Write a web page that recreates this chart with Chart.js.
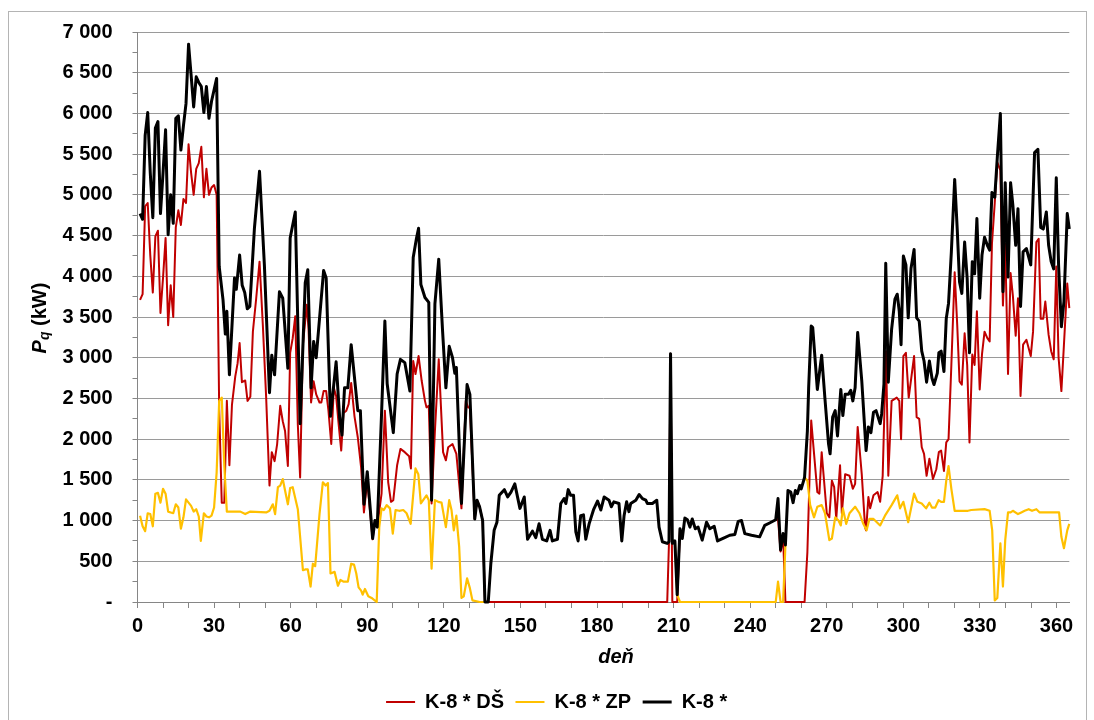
<!DOCTYPE html>
<html lang="sk">
<head>
    <meta charset="UTF-8">
    <title>K-8 Pq</title>
    <script src="https://cdn.jsdelivr.net/npm/chart.js@4.4.1/dist/chart.umd.min.js"></script>
    <style>
        body{
            margin: 0;
            background: white;
            overflow: hidden;
        }
    </style>
</head>
<body>
    <canvas id="myChart" width="1094" height="730"></canvas>
    <script>
        // K-8 * (total)
        var blackDays = [1,2,3,4,5,6,7,8,9,10,
            11,12,13,14,15,16,17,18,19,20,
            21,22,23,24,25,26,27,28,29,30,
            31,32,33.5,34.4,35,36,38,38.7,40,41,
            42,43,44,45.8,47.8,49.7,51.7,52.6,53.7,55.6,
            56.9,58.9,59.8,61.8,63.7,65.7,66.7,68,69,70,
            72.9,73.9,75.6,77.8,79.2,80.1,81.1,82.4,83.7,86.3,
            87.3,88.7,90,92.1,93,93.9,95.6,96.9,97.8,100.2,
            101.7,103,104.7,106.7,108,109.3,110.1,111,112.6,114.1,
            115.2,116.5,118,119.5,120.8,122.1,123.4,124.3,124.9,126.9,
            129.1,130.2,132.1,133,134,135.2,136.1,137.4,138.4,139.7,
            140.8,141.7,143.7,145,146.3,147.8,149.8,151.5,152.8,154.7,
            156,157.3,158.6,160.3,161.6,162.5,164.5,165.8,167.1,167.8,
            168.7,169.7,170.8,171.7,172.6,173.6,174.7,175.6,176.9,178.6,
            180.2,181.5,182.8,184.7,185.6,186.6,188.6,189.7,190.6,191.6,
            192.5,193.2,195.2,196.5,197.8,199.1,199.7,201.7,203.4,204.3,
            205.6,207.5,208.2,208.8,209.5,210.5,211.4,212.5,213.4,214.4,
            215.4,216.4,217.3,218.5,219.6,221.2,222.9,224.2,225.9,227.2,
            230,232,234,235.3,236.6,237.9,240.5,243.7,245.7,247.6,
            250,250.9,251.9,252.9,253.8,254.8,255.9,256.8,257.7,258.5,
            259.4,260,261.3,262.4,262.9,263.9,264.5,266.3,268,269.3,
            270.7,271.3,272.3,273.3,274.2,275.5,276.3,277.2,278.5,279.4,
            280.2,281.1,282.1,283.7,285.4,286.3,287.3,288.3,289.3,290.9,
            291.5,292.4,293.1,294.1,295.4,296.7,297.6,298.4,299.1,300,
            301,301.9,303,304.2,305.2,306.2,307.2,308.1,309.1,310.2,
            311.2,312,313.3,313.9,314.8,315.9,316.8,317.7,318.8,320.1,
            321.1,322,322.9,324,325,325.9,327,327.9,328.8,329.9,
            330.8,331.8,332.9,333.8,334.7,335.8,336.8,338,339,339.9,
            341,342,342.9,344,344.9,345.9,346.9,348.2,349.9,351.4,
            352.7,353.8,354.8,356,356.9,357.9,358.9,359.9,360.8,361.9,
            362.9,364.2,365];
        var blackVals = [4770,4700,5730,6010,5270,4720,5820,5900,4770,5270,
            5800,4510,5000,4650,5940,5970,5550,5850,6120,6850,
            6470,6080,6450,6380,6330,6010,6330,5940,6150,6290,
            6430,4120,3710,3290,3570,2790,3980,3840,4260,3890,
            3800,3600,3630,4590,5290,4140,2570,3030,2790,3810,
            3730,2870,4470,4790,2190,3920,4080,2630,3200,3000,
            4070,3980,2280,2950,2260,2050,2630,2630,3160,2350,
            2350,1200,1600,780,1000,920,2310,3450,2680,2080,
            2800,2980,2940,2590,4230,4470,4590,3900,3740,3680,
            1250,3660,4210,3330,2630,3140,3000,2810,2880,1210,
            2670,2550,1020,1250,1170,1000,0,0,470,880,
            980,1310,1380,1290,1350,1450,1150,1290,770,870,
            790,960,770,750,880,750,770,1210,1270,1210,
            1380,1310,1310,860,750,1060,1070,770,960,1130,
            1240,1130,1290,1250,1170,1230,1210,750,1060,1230,
            1110,1210,1250,1320,1270,1250,1210,1210,1250,920,
            740,720,740,3050,720,750,90,900,780,1030,
            1010,920,1020,900,920,760,980,900,930,750,
            790,820,830,990,1000,840,820,800,940,970,
            1010,1270,640,840,700,1370,1350,1220,1370,1330,
            1430,1390,1530,2100,2630,3390,3370,2610,3030,2490,
            1940,1820,2270,2350,2040,2610,2290,2550,2550,2600,
            2470,2630,3310,2720,1860,2150,2080,2330,2350,2190,
            2310,2680,4160,2700,3350,3720,3780,3570,3160,4250,
            4140,3490,4100,4330,3490,3450,3080,2960,2700,2960,
            2750,2670,2810,3060,3080,2830,3480,3670,4300,5190,
            4580,3930,3790,4420,3970,3060,4180,4030,4710,3730,
            4260,4480,4380,4320,5030,4970,5460,6000,3810,5150,
            3990,5150,4870,4380,4830,3630,4300,4340,4140,5520,
            5560,4600,4580,4790,4380,4180,4090,5210,4140,3380,
            3690,4770,4580];

        // K-8 * DŠ (null = hidden under the black line)
        var redDays = [1,2,3,4,5,6,7,8,9,10,
            11,12,13,14,15,16,17,18,19,20,
            21,22,23,24,25,26,27,28,29,30,
            31,32,33,34,35,36,37,38.3,39.2,40,
            40.9,42.2,43.1,44.2,45.2,46.5,47.8,49.1,50.4,51.7,
            52.6,53.7,54.7,55.9,56.9,57.8,58.9,59.8,60.8,61.8,
            62.8,63.7,64.8,66.3,67,68,69,70,71.3,72,
            72.9,73.9,74.8,75.9,76.9,77.8,78.8,79.8,80.7,81.8,
            82.7,83.7,85,86.3,87.6,88.7,90,92.1,93,93.9,
            95.6,96.9,98.2,99.3,100.2,101.7,103,104.7,106.4,107.1,
            108,108.9,110.1,111.3,112.6,113.2,114.1,115.2,116.5,118,
            119.7,120.8,121.7,123.4,124.9,126.9,128.6,129.5,130.2,132.1,
            133,134,135.2,136.1,207.5,208.2,208.8,209.5,211.4,212.5,
            213,250,250.9,251.9,252.9,253.8,261.3,262.4,263.9,266.3,
            267.1,268,270,271,272,272.9,273.7,275.2,275.9,277.2,
            278.9,280.2,281.1,282.1,283.7,285,285.4,286.3,287,288.3,
            289.9,290.9,291.9,293.2,294.1,295.4,297.4,298.4,299.1,300,
            301,302.1,304.2,305.2,306.2,307.2,308.1,309.1,310.2,311.6,
            312.9,313.9,314.8,315.9,316.8,317.7,318.8,320.1,321.1,322,
            322.9,324,325,325.9,327,327.9,328.8,329.9,330.8,331.8,
            332.9,333.8,334.7,335.8,336.8,338,339,339.9,341,342,
            342.9,344,344.9,345.9,346.9,348.2,349.9,350.8,352.1,353,
            353.8,354.8,355.6,356.9,357.9,358.9,359.9,360.8,361.9,362.9,
            364.2,365];
        var redVals = [3710,3780,4860,4900,4260,3800,4490,4560,3550,3980,
            4470,3400,3890,3500,4600,4810,4630,4950,4900,5620,
            5270,5000,5320,5390,5590,4970,5320,5000,5090,5120,
            5000,2370,1220,1220,2470,1680,2420,2770,2930,3180,
            2700,2720,2470,2520,3320,3730,4180,3400,2510,1430,
            1840,1730,1940,2410,2220,2100,1670,3060,3240,3510,
            2180,1530,3160,3650,3360,2450,2710,2550,2450,2450,
            2590,2590,2350,1940,2630,2530,2180,1860,2320,2350,
            2430,2690,2280,2020,1650,1100,1490,770,1000,920,
            1330,2350,1470,1230,1250,1680,1880,1840,1790,1640,
            2960,2800,3020,2720,2470,2390,2410,1210,2100,2980,
            1840,1740,1900,1940,1820,1150,2470,2390,2390,1020,
            1250,1170,1000,0,0,740,3050,0,0,900,
            null,1010,1020,620,800,0,0,610,2230,1350,
            1330,1840,1090,1040,1490,1410,1020,1680,1090,1570,
            1550,1390,1450,2150,1570,920,880,1290,1150,1310,
            1350,1230,1550,3080,1550,2470,2510,2470,2000,3020,
            3060,2510,3020,2270,2250,1900,1820,1550,1760,1510,
            1630,1840,1860,1610,1960,2000,2910,4050,3400,2710,
            2670,3300,2910,1960,3040,2910,3570,2610,3040,3320,
            3240,3200,4400,4900,5400,5300,3640,4400,2800,4040,
            3760,3270,3730,2530,3160,3220,3020,3320,4420,4460,
            3480,3480,3690,3280,3080,2980,4120,3000,2590,3160,
            3910,3610];

        // K-8 * ZP (null = hidden under the black line)
        var yellowDays = [1,2,3,4,5,6,7,8,9,10,
            11,12,13,14,15,16,17,18,19,20,
            21,22,23,24,24.8,26,27,28,29,30,
            31,32,33,34,35,40.3,42.2,44.2,50.4,51.7,
            53,53.9,55,55.9,56.9,57.8,58.9,59.8,60.8,62.8,
            64.8,65.7,66.7,67.8,68.7,69.6,71.3,72.6,73.7,74.6,
            75.6,77.2,78.5,79.5,80.8,82.4,83.7,84.8,85.7,86.6,
            87.6,88.2,89.1,90.4,91.7,93.7,94.7,95.6,96.5,97.6,
            98.9,100,101.1,102.5,104.1,105.4,107,108.9,110,111,
            111.9,113.2,114.1,115.2,116.5,117.8,119.1,120.8,122.1,123,
            123.9,124.9,126,126.9,127.8,129.1,130.2,131.2,134.1,137.4,
            138,209.5,210.5,211.4,212.5,250,250.9,251.9,252.9,253.8,
            254.5,261.3,262.4,263.5,265,266.3,268,269.3,271,272,
            273.3,274.6,275.5,276.3,277.6,278.9,281.1,282.8,284.3,285.6,
            286.7,288.3,289.6,290.9,292.8,295.4,297.6,298.7,300,301.9,
            304.2,305.5,307.2,308.9,310.2,311.2,312.5,313.8,314.8,315.9,
            316.8,317.7,318.8,320.1,325.3,326.6,331.8,333.8,334.8,335.8,
            336.8,338,339,339.9,341,342,342.9,344.9,346.2,347.5,
            349.1,350.4,352.1,353.4,355.4,361,361.9,362.9,364.2,365];
        var yellowVals = [1060,930,870,1090,1080,930,1330,1340,1220,1390,
            1330,1110,1100,1090,1200,1160,900,1040,1260,1220,
            1180,1110,1140,1050,750,1090,1050,1040,1060,1160,
            1590,2470,2510,1680,1110,1110,1080,1110,1100,1120,
            1200,1080,1410,1430,1510,1370,1200,1400,1410,1140,
            390,400,400,190,470,440,1080,1470,1430,1460,
            350,370,200,270,250,250,470,460,350,180,
            140,90,160,70,50,0,920,1150,1130,1190,
            1150,840,1130,1120,1130,1090,960,1640,1570,1210,
            1250,1310,1250,410,1250,1230,1220,920,1250,1130,
            880,1060,680,50,70,290,170,20,0,0,
            null,720,750,90,0,0,250,0,0,700,
            null,1530,1490,1190,1040,1170,1190,1090,760,780,
            1040,1000,940,1150,960,1090,1170,1090,960,880,
            1020,1020,980,940,1060,1190,1310,1150,1230,980,
            1330,1230,1210,1150,1220,1160,1160,1250,1230,1230,
            1490,1670,1390,1120,1120,1130,1140,1120,880,20,
            50,720,190,760,1100,1100,1120,1080,1100,1120,
            1140,1120,1140,1100,1100,1100,800,660,880,960];

        var xTicks = [0,30,60,90,120,150,180,210,240,270,300,330,360];

        function pts(days, vals) {
            return days.map(function(d, i) { return {x: d, y: vals[i]}; });
        }

        function fmt(v) {
            if (v === 0) return '-';
            if (v < 1000) return String(v);
            return Math.floor(v / 1000) + ' ' + String(v % 1000).padStart(3, '0');
        }

        var FONT = '"Liberation Sans", Arial, sans-serif';
        Chart.defaults.font.family = FONT;
        Chart.defaults.color = '#000';

        // outer frame
        var framePlugin = {
            id: 'frame',
            beforeDraw: function(chart) {
                var ctx = chart.ctx;
                ctx.save();
                ctx.fillStyle = 'white';
                ctx.fillRect(0, 0, chart.width, chart.height);
                ctx.strokeStyle = '#b4b4b4';
                ctx.lineWidth = 1;
                ctx.strokeRect(8.5, 11.5, 1078, 760);
                ctx.restore();
            }
        };

        // axis titles: P with subscript q, and 'deň' a bit right of centre like the original
        var axisTitlePlugin = {
            id: 'axisTitles',
            afterDraw: function(chart) {
                var ctx = chart.ctx;
                var parts = [
                    {t: 'P', f: 'italic bold 20px ' + FONT, dy: 0},
                    {t: 'q', f: 'italic bold 14px ' + FONT, dy: 5},
                    {t: ' (kW)', f: 'bold 20px ' + FONT, dy: 0}
                ];
                var w = 0;
                ctx.save();
                parts.forEach(function(p) { ctx.font = p.f; p.w = ctx.measureText(p.t).width; w += p.w; });
                ctx.translate(40, 318);
                ctx.rotate(-Math.PI / 2);
                ctx.fillStyle = '#000';
                ctx.textBaseline = 'middle';
                var x = -w / 2;
                parts.forEach(function(p) { ctx.font = p.f; ctx.fillText(p.t, x, p.dy); x += p.w; });
                ctx.restore();

                ctx.save();
                ctx.font = 'italic bold 20px ' + FONT;
                ctx.fillStyle = '#000';
                ctx.textAlign = 'center';
                ctx.textBaseline = 'middle';
                ctx.fillText('deň', 616, 657);
                ctx.restore();
            }
        };

        var ctx = document.getElementById('myChart').getContext('2d');
        var myChart = new Chart(ctx, {
            type: 'line',
            data: {
                datasets: [{
                    label: 'K-8 * DŠ',
                    data: pts(redDays, redVals),
                    borderColor: '#c00000',
                    backgroundColor: '#c00000',
                    borderWidth: 2,
                    order: 2
                }, {
                    label: 'K-8 * ZP',
                    data: pts(yellowDays, yellowVals),
                    borderColor: '#ffc000',
                    backgroundColor: '#ffc000',
                    borderWidth: 2.2,
                    order: 1
                }, {
                    label: 'K-8 *',
                    data: pts(blackDays, blackVals),
                    borderColor: '#000000',
                    backgroundColor: '#000000',
                    borderWidth: 3,
                    order: 0
                }]
            },
            options: {
                responsive: false,
                animation: false,
                devicePixelRatio: 1,
                layout: {
                    padding: {left: 44, right: 24.7, top: 30, bottom: 8}
                },
                elements: {
                    point: {radius: 0},
                    line: {tension: 0, borderJoinStyle: 'round'}
                },
                datasets: {
                    line: {clip: 5, spanGaps: false}
                },
                plugins: {
                    tooltip: {enabled: false},
                    legend: {
                        position: 'bottom',
                        reverse: true,
                        labels: {
                            usePointStyle: true,
                            pointStyle: 'line',
                            pointStyleWidth: 29,
                            padding: 11.5,
                            color: '#000',
                            font: {size: 20, weight: 'bold'}
                        }
                    }
                },
                scales: {
                    x: {
                        type: 'linear',
                        min: 0,
                        max: 365,
                        afterFit: function(s) { s.height = 78.5; },
                        ticks: {
                            stepSize: 10,
                            includeBounds: false,
                            autoSkip: false,
                            maxRotation: 0,
                            padding: 6,
                            color: '#000',
                            font: {size: 20, weight: 'bold'},
                            callback: function(v) { return xTicks.indexOf(v) >= 0 ? String(v) : ''; }
                        },
                        grid: {
                            drawOnChartArea: false,
                            tickLength: 6,
                            tickColor: '#868686'
                        },
                        border: {color: '#868686', width: 1}
                    },
                    y: {
                        min: 0,
                        max: 7000,
                        afterFit: function(s) { s.width = 93.5; },
                        ticks: {
                            stepSize: 250,
                            autoSkip: false,
                            padding: 20,
                            color: '#000',
                            font: {size: 20, weight: 'bold'},
                            callback: function(v) { return v % 500 === 0 ? fmt(v) : ''; }
                        },
                        grid: {
                            color: function(c) { return c.tick && c.tick.value % 500 === 0 ? '#9a9a9a' : 'rgba(0,0,0,0)'; },
                            tickColor: '#868686',
                            tickLength: 5,
                            lineWidth: 1
                        },
                        border: {color: '#868686', width: 1}
                    }
                }
            },
            plugins: [framePlugin, axisTitlePlugin]
        });
    </script>
</body>
</html>
